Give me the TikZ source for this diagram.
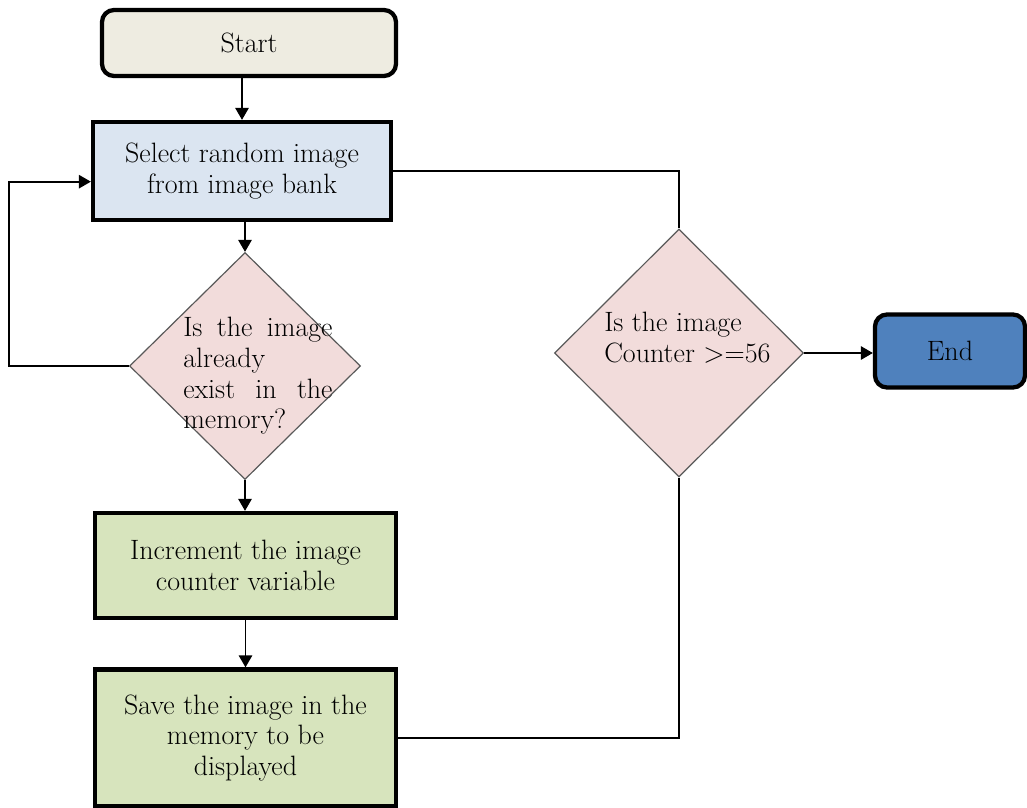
\documentclass[tikz,border=0pt]{standalone}
\usetikzlibrary{arrows.meta,shapes.geometric}
\definecolor{startc}{HTML}{EEECE1}
\definecolor{selc}{HTML}{DBE5F1}
\definecolor{diac}{HTML}{F2DCDB}
\definecolor{grnc}{HTML}{D7E4BD}
\definecolor{endc}{HTML}{4F81BD}
\begin{document}
\begin{tikzpicture}[x=0.75pt,y=-0.75pt,
  txt/.style={font=\fontsize{21}{23}\selectfont, inner sep=0pt},
  sbox/.style={draw=black, line width=3.2pt, align=center, txt, inner sep=2pt},
  rbox/.style={sbox, rounded corners=9pt},
  dia/.style={diamond, draw=black!65, line width=0.9pt, fill=diac, inner sep=0pt},
  conn/.style={draw=black, line width=1.4pt},
  arr/.style={conn, -{Triangle[width=10pt,length=9pt]}}
]
\useasboundingbox (0,0) rectangle (1027,807);

\node[rbox, fill=startc, minimum width=220.5pt, minimum height=49.5pt] (start) at (249,43) {Start};
\node[sbox, fill=selc, minimum width=223.5pt, minimum height=73.5pt] (sel) at (242,171) {Select random image\\from image bank};
\node[dia, minimum width=173.25pt, minimum height=170.25pt] (d1) at (245,366) {};
\node[txt, anchor=west, align=left] (t1) at (183,376) {\makebox[112pt][s]{Is the image}\\already\\\makebox[112pt][s]{exist in the}\\memory?};
\node[sbox, fill=grnc, minimum width=225.75pt, minimum height=78.75pt] (inc) at (245.5,565.5) {Increment the image\\counter variable};
\node[sbox, fill=grnc, minimum width=225.75pt, minimum height=102.75pt] (save) at (245.5,738) {Save the image in the\\memory to be\\displayed};
\node[dia, minimum width=186.75pt, minimum height=186pt] (d2) at (679,353) {};
\node[txt, anchor=west, align=left] (t2) at (604,338) {Is the image\\Counter >=56};
\node[rbox, fill=endc, minimum width=112.5pt, minimum height=54.75pt] (end) at (950,351) {End};

\draw[arr] (start.south -| sel.north) -- (sel.north);
\draw[arr] (sel.south -| d1.north) -- (d1.north);
\draw[arr] (d1.south) -- (d1.south |- inc.north);
\draw[arr] (inc.south) -- (save.north);
\draw[arr] (d1.west) -- ++(-120,0) |- ([yshift=-8pt]sel.west);
\draw[conn] (sel.east) -| (d2.north);
\draw[conn] (save.east) -| (d2.south);
\draw[arr] (d2.east) -- (d2.east -| end.west);
\end{tikzpicture}
\end{document}
